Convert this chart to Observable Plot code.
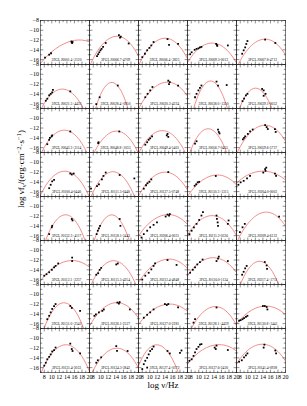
<!DOCTYPE html>
<html><head><meta charset="utf-8">
<script src="https://cdn.jsdelivr.net/npm/d3@7"></script>
<script src="https://cdn.jsdelivr.net/npm/@observablehq/plot@0.6"></script>
<style>html,body{margin:0;padding:0;background:#fff}#chart svg{display:block}</style>
</head><body><div id="chart"></div>
<script>
const names = [
  "3FGL J0001.4+2120","3FGL J0006.7-4709","3FGL J0006.4+3825","3FGL J0009.3-0013","3FGL J0007.8-4712",
  "3FGL J0021.5+4435","3FGL J0028.4+0950","3FGL J0030.3-4224","3FGL J0038.0+1350","3FGL J0039.1-0052",
  "3FGL J0043.3+3114","3FGL J0048.8+1033","3FGL J0049.4-5401","3FGL J0056.7-0455","3FGL J0059.6-5737",
  "3FGL J0100.4-0440","3FGL J0111.5-0440","3FGL J0137.5-0748","3FGL J0150.3+1315","3FGL J0204.0-0003",
  "3FGL J0152.3+4117","3FGL J0158.1-3443","3FGL J0206.4-0031","3FGL J0211.2-0336","3FGL J0209.4-6132",
  "3FGL J0112.1+2257","3FGL J0115.5-4254","3FGL J0213.4-4848","3FGL J0116.0-1134","3FGL J0217.4+1711",
  "3FGL J0151.0+2541","3FGL J0126.1-2527","3FGL J0127.0-2281","3FGL J0128.1+4439","3FGL J0130.8+1441",
  "3FGL J0131.4-3033","3FGL J0134.3-3842","3FGL J0127.4+0172","3FGL J0137.6-2430","3FGL J0141.4-0928"
];
const fitX = [3, 7, 11, 15, 19, 23];
const fitY = [
  [-21.20,-16.77,-13.79,-12.24,-12.13,-13.46],
  [-26.25,-17.42,-12.43,-11.28,-13.96,-20.49],
  [-25.50,-17.24,-12.64,-11.72,-14.48,-20.92],
  [-23.07,-16.61,-13.19,-12.81,-15.47,-21.17],
  [-25.69,-17.71,-13.09,-11.83,-13.93,-19.39],
  [-25.48,-17.37,-13.42,-13.63,-18.00,-26.52],
  [-41.00,-22.04,-12.68,-12.92,-22.76,-42.20],
  [-24.38,-17.09,-12.83,-11.62,-13.44,-18.30],
  [-40.88,-22.09,-12.58,-12.35,-21.39,-39.72],
  [-31.85,-18.78,-13.08,-14.73,-23.75,-40.12],
  [-25.98,-17.48,-13.08,-12.77,-16.56,-24.44],
  [-28.62,-19.15,-13.85,-12.71,-15.72,-22.90],
  [-25.23,-17.26,-13.13,-12.85,-16.40,-23.79],
  [-31.05,-18.45,-12.57,-13.41,-20.97,-35.25],
  [-25.29,-17.31,-12.69,-11.43,-13.53,-18.99],
  [-24.78,-16.72,-12.49,-12.11,-15.56,-22.86],
  [-28.02,-17.86,-12.65,-12.40,-17.11,-26.78],
  [-24.10,-16.90,-12.90,-12.10,-14.50,-20.10],
  [-22.62,-16.98,-13.64,-12.60,-13.87,-17.44],
  [-17.85,-14.25,-12.25,-11.85,-13.05,-15.85],
  [-33.61,-20.19,-13.02,-12.08,-17.39,-28.93],
  [-36.20,-20.40,-12.60,-12.80,-21.00,-37.20],
  [-21.72,-16.08,-12.74,-11.70,-12.97,-16.54],
  [-22.37,-15.91,-12.49,-12.11,-14.77,-20.47],
  [-25.54,-17.47,-12.69,-11.20,-13.02,-18.13],
  [-21.18,-16.23,-13.21,-12.11,-12.92,-15.66],
  [-27.24,-17.83,-12.91,-12.46,-16.49,-25.00],
  [-22.60,-16.60,-13.00,-11.80,-13.00,-16.60],
  [-20.60,-15.11,-12.11,-11.61,-13.61,-18.10],
  [-31.58,-19.27,-13.04,-12.89,-18.81,-30.82],
  [-31.98,-19.20,-12.64,-12.33,-18.26,-30.43],
  [-23.36,-16.52,-12.65,-11.76,-13.84,-18.90],
  [-21.23,-16.17,-13.09,-12.00,-12.90,-15.77],
  [-27.18,-18.63,-13.75,-12.56,-15.04,-21.20],
  [-20.89,-16.08,-13.25,-12.41,-13.55,-16.67],
  [-26.76,-17.36,-12.28,-11.53,-15.09,-22.98],
  [-27.05,-18.22,-13.23,-12.08,-14.76,-21.29],
  [-25.56,-15.62,-11.45,-13.03,-20.37,-33.48],
  [-19.92,-15.23,-12.35,-11.31,-12.08,-14.68],
  [-21.46,-15.27,-11.89,-11.33,-13.58,-18.65]
];
const seds = [
  [[8.2,-15.6],[9.3,-15.0],[9.8,-14.7],[15.2,-12.3],[15.4,-12.6],[15.5,-12.4],[15.3,-12.5]],
  [[9.0,-15.3],[9.3,-14.9],[9.6,-14.5],[9.9,-14.1],[10.2,-13.8],[10.6,-13.4],[11.3,-12.6],[14.8,-11.0],[15.1,-11.5],[15.3,-11.3],[17.4,-12.7]],
  [[8.0,-15.5],[8.7,-14.8],[9.3,-14.1],[9.9,-13.6],[10.4,-13.1],[11.0,-12.4],[14.7,-11.8],[15.1,-13.0],[17.5,-12.8]],
  [[7.7,-14.9],[8.1,-14.5],[8.9,-14.0],[9.4,-13.8],[9.9,-13.7],[10.3,-13.5],[10.7,-13.4],[14.6,-12.8],[14.8,-13.0],[14.9,-13.2],[17.7,-13.1]],
  [[8.5,-14.8],[8.9,-14.1],[9.3,-13.5],[9.6,-12.8],[9.9,-12.2],[14.6,-11.9],[17.3,-12.6]],
  [[8.4,-15.4],[8.8,-15.0],[9.3,-14.3],[9.7,-14.0],[10.1,-13.7],[10.3,-13.2],[14.9,-13.5]],
  [[8.8,-16.1],[9.7,-14.7],[14.5,-12.3]],
  [[8.8,-14.7],[9.4,-14.0],[10.1,-13.3],[10.7,-12.6],[14.9,-11.3],[15.1,-12.0],[15.3,-11.6],[17.5,-12.3]],
  [[9.0,-14.7],[9.4,-14.0],[9.9,-13.3],[10.3,-12.8],[10.7,-12.3],[14.7,-11.5],[15.1,-12.3],[17.4,-12.2]],
  [[8.6,-15.5],[9.0,-15.0],[9.5,-14.3],[9.9,-14.0],[13.8,-13.0],[14.2,-13.3],[14.7,-14.0],[14.2,-14.4]],
  [[8.8,-15.3],[9.3,-14.4],[9.5,-14.0],[9.95,-13.7],[10.1,-13.5],[14.9,-12.7]],
  [[9.3,-15.1],[9.4,-14.9],[14.9,-12.7]],
  [[8.8,-15.4],[9.3,-14.9],[9.7,-14.4],[10.1,-14.1],[10.6,-13.7],[14.5,-13.5],[14.9,-13.8],[14.7,-13.2]],
  [[9.0,-15.2],[9.4,-14.7],[15.1,-12.3],[15.3,-12.8],[15.5,-13.1]],
  [[8.7,-14.3],[9.0,-14.0],[9.3,-13.7],[10.0,-13.2],[10.6,-12.7],[11.3,-12.3],[14.6,-11.4],[15.0,-11.8],[15.3,-12.2],[17.2,-12.2],[17.4,-12.8]],
  [[9.3,-15.3],[9.7,-14.6],[10.1,-13.9],[10.6,-13.6],[14.9,-12.3],[15.3,-12.5],[15.8,-12.3]],
  [[7.4,-15.4],[9.0,-14.9],[9.5,-14.5],[10.3,-13.5],[10.7,-12.8],[11.3,-12.1],[15.0,-12.6],[18.9,-13.3]],
  [[8.4,-15.4],[9.0,-14.7],[9.4,-14.3],[9.9,-14.0],[10.4,-13.5],[14.9,-12.0]],
  [[8.9,-14.8],[9.3,-14.5],[9.7,-14.1],[10.1,-14.0],[14.5,-12.8]],
  [[7.5,-14.6],[8.1,-14.1],[8.9,-13.8],[9.8,-13.3],[10.6,-12.8],[14.1,-12.1],[14.6,-11.4],[14.7,-11.75],[14.9,-11.1],[17.2,-12.3],[17.5,-12.8]],
  [[9.3,-15.7],[10.0,-14.3],[10.1,-14.0],[15.3,-12.6],[15.5,-12.9]],
  [[8.9,-15.7],[9.2,-15.0],[9.5,-14.5],[9.8,-14.0],[15.0,-12.6],[15.2,-14.0]],
  [[7.8,-16.4],[8.4,-15.7],[9.3,-15.0],[10.1,-14.3],[11.0,-13.8],[11.9,-13.3],[14.2,-12.1],[14.7,-11.7],[15.1,-11.9],[15.3,-11.6]],
  [[7.5,-15.7],[8.1,-15.0],[8.7,-14.3],[9.4,-13.6],[10.1,-12.8],[10.7,-11.9],[11.1,-11.2],[14.7,-11.9],[14.8,-12.6],[15.0,-13.3],[15.1,-14.0],[17.7,-13.6],[17.9,-12.9]],
  [[7.9,-15.3],[8.6,-14.3],[9.2,-13.6],[18.3,-12.1]],
  [[8.0,-15.2],[8.6,-14.9],[9.3,-14.5],[10.0,-14.0],[10.6,-13.5],[11.0,-13.2],[11.7,-12.7],[15.4,-11.5],[15.4,-12.2]],
  [[8.8,-15.0],[9.3,-14.7],[9.7,-14.0],[10.1,-13.6],[14.1,-12.9],[14.5,-12.7]],
  [[8.0,-16.0],[8.8,-15.2],[9.7,-14.6],[10.4,-13.9],[11.0,-13.2],[11.4,-12.7],[14.7,-12.0],[17.1,-13.0]],
  [[7.7,-14.6],[8.4,-14.0],[9.0,-13.5],[9.6,-12.9],[10.3,-12.4],[11.0,-11.9],[14.7,-12.2],[15.1,-11.7],[15.3,-11.3],[17.7,-12.2]],
  [[8.5,-15.0],[8.9,-14.4],[9.3,-13.7],[9.7,-13.2],[14.5,-12.4],[15.0,-13.1],[15.1,-13.8]],
  [[8.8,-15.1],[9.3,-14.4],[9.7,-13.7],[10.1,-13.0],[10.6,-12.4],[11.0,-12.0],[14.9,-12.4],[15.3,-12.8],[17.5,-13.4]],
  [[8.3,-14.4],[8.7,-14.1],[9.5,-13.7],[10.4,-13.4],[10.8,-13.1],[14.4,-11.7],[14.8,-11.9],[15.0,-11.6],[17.7,-13.1]],
  [[8.4,-14.8],[9.3,-14.2],[10.1,-13.7],[11.0,-13.1],[14.0,-12.0],[14.5,-12.2],[14.9,-12.0],[17.5,-12.7]],
  [[8.6,-15.8],[9.0,-15.1],[14.7,-12.7]],
  [[7.7,-15.4],[8.1,-15.3],[8.6,-15.1],[9.0,-14.9],[9.5,-14.6],[9.9,-14.4],[14.0,-12.4],[14.5,-12.4],[15.0,-12.6],[15.2,-13.1]],
  [[8.0,-15.6],[8.4,-15.0],[8.8,-14.3],[9.3,-13.8],[9.7,-13.3],[10.1,-12.7],[10.6,-12.4],[11.0,-11.9],[14.9,-11.1],[15.3,-12.2],[15.5,-12.6],[17.5,-13.1]],
  [[8.8,-15.0],[9.2,-14.5],[10.1,-13.9],[14.1,-11.6],[14.3,-12.6],[17.1,-12.6]],
  [[8.0,-16.3],[8.4,-15.3],[8.8,-14.6],[9.3,-14.0],[9.7,-13.3],[10.1,-12.6],[10.6,-12.2],[11.0,-11.7],[9.3,-16.0],[14.7,-12.6],[15.3,-13.1],[18.0,-13.0],[18.4,-12.5]],
  [[7.5,-14.6],[8.1,-14.3],[8.6,-13.6],[9.0,-12.9],[9.4,-12.2],[9.9,-11.75],[10.3,-11.3],[10.7,-11.2],[14.2,-11.9],[14.7,-11.5],[14.5,-12.2],[17.7,-12.4]],
  [[7.7,-14.8],[8.4,-14.5],[9.0,-13.9],[9.5,-13.5],[9.9,-13.1],[14.2,-11.9],[14.4,-11.3],[17.3,-12.5],[17.5,-13.1]]
];
const xTicks = [8, 10, 12, 14, 16, 18, 20];
const yTicks = [-16, -14, -12, -10, -8];
const xMinor = [7, 9, 11, 13, 15, 17, 19];
const yMinor = [-17, -15, -13, -11, -9];
const xLabel = "log ν/Hz";

const NC = 5;
const cell = i => ({col: i % NC, row: Math.floor(i / NC)});
const panels = names.map((name, i) => ({name, ...cell(i)}));
const fitData = fitY.flatMap((ys, i) => ys.map((y, j) => ({x: fitX[j], y, id: i, ...cell(i)})));
const ptData = seds.flatMap((pts, i) => pts.map(([x, y]) => ({x, y, ...cell(i)})));

const font = "'Liberation Serif', 'Times New Roman', serif";
// inward tick: a straight segment drawn from the frame edge into the panel
const tickShape = {draw(context, l) { context.moveTo(0, 0); context.lineTo(0, -l); }};
const ticksX = (data, anchor, len) => Plot.vectorX(data, {frameAnchor: anchor, rotate: anchor === "bottom" ? 0 : 180, length: len, anchor: "start", shape: tickShape, stroke: "#222", strokeWidth: 0.5});
const ticksY = (data, anchor, len) => Plot.vectorY(data, {frameAnchor: anchor, rotate: anchor === "left" ? 90 : -90, length: len, anchor: "start", shape: tickShape, stroke: "#222", strokeWidth: 0.5});

const chart = Plot.plot({
  width: 307, height: 406,
  marginTop: 20, marginBottom: 34, marginLeft: 38, marginRight: 20,
  style: {fontFamily: font, background: "#fff", color: "#000"},
  fx: {domain: d3.range(5), padding: 0, axis: null},
  fy: {domain: d3.range(8), padding: 0, axis: null},
  x: {domain: [7, 20]},
  y: {domain: [-17, -8]},
  marks: [
    Plot.line(fitData, {x: "x", y: "y", fx: "col", fy: "row", z: "id", curve: "natural", stroke: "#f07070", strokeWidth: 0.8, clip: true}),
    Plot.dot(ptData, {x: "x", y: "y", fx: "col", fy: "row", symbol: "square", r: 1, fill: "#000", clip: true}),
    Plot.text(panels, {fx: "col", fy: "row", text: "name", frameAnchor: "bottom", dy: -4, dx: 1.5, fontSize: 3.6, fill: "#000"}),
    ticksX(xTicks, "bottom", 2.5),
    ticksX(xTicks, "top", 2.5),
    ticksX(xMinor, "bottom", 1.3),
    ticksX(xMinor, "top", 1.3),
    ticksY(yTicks, "left", 2.5),
    ticksY(yTicks, "right", 2.5),
    ticksY(yMinor, "left", 1.3),
    ticksY(yMinor, "right", 1.3),
    Plot.frame({stroke: "#222", strokeWidth: 0.6}),
    Plot.axisX({anchor: "bottom", ticks: xTicks, tickSize: 0, tickPadding: 2, fontSize: 6, label: null}),
    Plot.axisY({anchor: "left", ticks: yTicks, tickSize: 0, tickPadding: 1.5, fontSize: 6, label: null})
  ]
});
document.getElementById("chart").appendChild(chart);

const svg = d3.select(chart);
svg.append("text").attr("x", 163).attr("y", 388).attr("text-anchor", "middle")
  .attr("font-family", font).attr("font-size", 9).attr("fill", "#000").text(xLabel);
const yl = svg.append("text").attr("transform", "translate(24,169) rotate(-90)").attr("text-anchor", "middle")
  .attr("font-family", font).attr("font-size", 9).attr("fill", "#000");
yl.append("tspan").text("log νf");
yl.append("tspan").attr("dy", 2).attr("font-size", 6.5).text("ν");
yl.append("tspan").attr("dy", -2).text("/(erg·cm");
yl.append("tspan").attr("dy", -3).attr("font-size", 6.5).text("−2");
yl.append("tspan").attr("dy", 3).text("·s");
yl.append("tspan").attr("dy", -3).attr("font-size", 6.5).text("−1");
yl.append("tspan").attr("dy", 3).text(")");
</script>
</body></html>
